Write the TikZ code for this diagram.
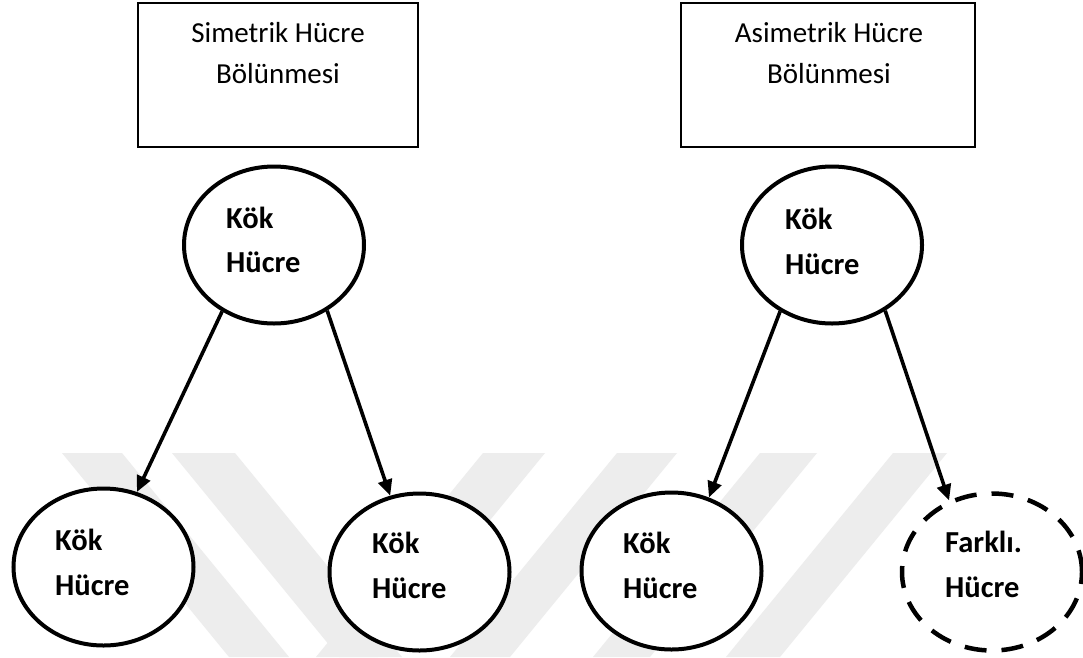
\documentclass[tikz,border=0pt]{standalone}
\usepackage{fontspec}
\setmainfont{Carlito}
\usetikzlibrary{shapes.geometric,arrows.meta}
\begin{document}
\begin{tikzpicture}[x=1pt,y=-1pt,
  cellshape/.style={draw, line width=4pt, ellipse, fill=white, minimum width=180pt, minimum height=157pt, inner sep=0pt},
  diffcell/.style={cellshape, dash pattern=on 22pt off 15pt, line width=4.5pt},
  titlebox/.style={draw, line width=1.8pt},
  titletext/.style={anchor=base, inner sep=0pt, font=\fontsize{29}{35}\selectfont},
  celltext/.style={anchor=base west, inner sep=0pt, font=\fontsize{30.5}{36}\selectfont\bfseries},
  arr/.style={line width=3.6pt, -{Triangle[length=16pt,width=14pt]}},
  wm/.style={fill=black!7, draw=none}]
\useasboundingbox (0,0) rectangle (1083,657);
\fill[white] (0,0) rectangle (1083,657);
% faint watermark bands
\fill[wm] (62,453) -- (122,453) -- (289,657) -- (229,657) -- cycle;
\fill[wm] (172,453) -- (235,453) -- (402,657) -- (339,657) -- cycle;
\fill[wm] (483,453) -- (545,453) -- (378,657) -- (316,657) -- cycle;
\fill[wm] (617,453) -- (677,453) -- (510,657) -- (450,657) -- cycle;
\fill[wm] (760,453) -- (817,453) -- (650,657) -- (593,657) -- cycle;
\fill[wm] (893,453) -- (947,453) -- (780,657) -- (726,657) -- cycle;
% title boxes
\node[titlebox, minimum width=280pt, minimum height=144pt, inner sep=0pt] (box1) at (278,75) {};
\node[titlebox, minimum width=294pt, minimum height=144pt, inner sep=0pt] (box2) at (828,75) {};
\node[titletext] (box1a) at (278,42) {Simetrik Hücre};
\node[titletext] (box1b) at (278,83) {Bölünmesi};
\node[titletext] (box2a) at (829,42) {Asimetrik Hücre};
\node[titletext] (box2b) at (829,83) {Bölünmesi};
% cells
\node[cellshape] (t1) at (274,245) {};
\node[cellshape] (t2) at (832,245) {};
\node[cellshape] (b1) at (103.5,567) {};
\node[cellshape] (b2) at (419.5,572) {};
\node[cellshape] (b3) at (671.5,571) {};
\node[diffcell] (b4) at (992,572) {};
% cell texts
\node[celltext] (t1a) at (226,228) {Kök};
\node[celltext] (t1b) at (226,272) {Hücre};
\node[celltext] (t2a) at (785,229) {Kök};
\node[celltext] (t2b) at (785,274) {Hücre};
\node[celltext] (b1a) at (55,550) {Kök};
\node[celltext] (b1b) at (55,595) {Hücre};
\node[celltext] (b2a) at (372,553) {Kök};
\node[celltext] (b2b) at (372,598) {Hücre};
\node[celltext] (b3a) at (623,553) {Kök};
\node[celltext] (b3b) at (623,598) {Hücre};
\node[celltext] (b4a) at (945,552) {Farklı.};
\node[celltext] (b4b) at (945,597) {Hücre};
% arrows
\draw[arr] (t1.232) -- (b1.66);
\draw[arr] (t1.309) -- (b2.111);
\draw[arr] (t2.232) -- (b3.63);
\draw[arr] (t2.309) -- (b4.121);
\end{tikzpicture}
\end{document}
